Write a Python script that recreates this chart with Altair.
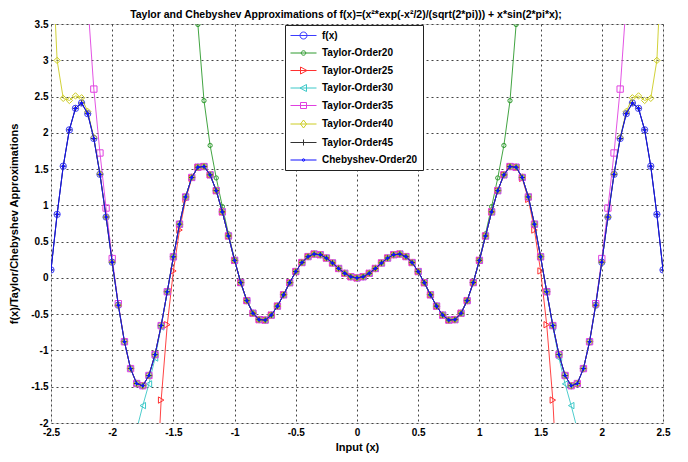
import altair as alt
import pandas as pd

# ---------------- data ----------------
X = [-2.50, -2.45, -2.40, -2.35, -2.30, -2.25, -2.20, -2.15, -2.10, -2.05,
     -2.00, -1.95, -1.90, -1.85, -1.80, -1.75, -1.70, -1.65, -1.60, -1.55,
     -1.50, -1.45, -1.40, -1.35, -1.30, -1.25, -1.20, -1.15, -1.10, -1.05,
     -1.00, -0.95, -0.90, -0.85, -0.80, -0.75, -0.70, -0.65, -0.60, -0.55,
     -0.50, -0.45, -0.40, -0.35, -0.30, -0.25, -0.20, -0.15, -0.10, -0.05,
     0.00,
     0.05, 0.10, 0.15, 0.20, 0.25, 0.30, 0.35, 0.40, 0.45, 0.50,
     0.55, 0.60, 0.65, 0.70, 0.75, 0.80, 0.85, 0.90, 0.95, 1.00,
     1.05, 1.10, 1.15, 1.20, 1.25, 1.30, 1.35, 1.40, 1.45, 1.50,
     1.55, 1.60, 1.65, 1.70, 1.75, 1.80, 1.85, 1.90, 1.95, 2.00,
     2.05, 2.10, 2.15, 2.20, 2.25, 2.30, 2.35, 2.40, 2.45, 2.50]

F = [0.110, 0.876, 1.540, 2.041, 2.337, 2.411, 2.264, 1.922, 1.428, 0.839,
     0.216, -0.376, -0.880, -1.250, -1.456, -1.486, -1.345, -1.057, -0.657, -0.191,
     0.291, 0.741, 1.116, 1.385, 1.526, 1.535, 1.421, 1.203, 0.910, 0.578,
     0.242, -0.064, -0.313, -0.487, -0.575, -0.581, -0.513, -0.389, -0.233, -0.066,
     0.088, 0.212, 0.294, 0.329, 0.320, 0.274, 0.206, 0.130, 0.063, 0.016,
     0.000,
     0.016, 0.063, 0.130, 0.206, 0.274, 0.320, 0.329, 0.294, 0.212, 0.088,
     -0.066, -0.233, -0.389, -0.513, -0.581, -0.575, -0.487, -0.313, -0.064, 0.242,
     0.578, 0.910, 1.203, 1.421, 1.535, 1.526, 1.385, 1.116, 0.741, 0.291,
     -0.191, -0.657, -1.057, -1.345, -1.486, -1.456, -1.250, -0.880, -0.376, 0.216,
     0.839, 1.428, 1.922, 2.264, 2.411, 2.337, 2.041, 1.540, 0.876, 0.110]

# Taylor approximations: equal to f(x) in the middle, diverging near the ends.
T20_LIMIT = 1.35
T20_DEV_X = [-1.35, -1.30, -1.25, -1.20, -1.15, -1.10, -1.05, -1.00,
             1.00, 1.05, 1.10, 1.15, 1.20, 1.25, 1.30, 1.35]
T20_DEV_Y = [5.52, 3.493, 2.443, 1.826, 1.378, 0.983, 0.607, 0.253,
             0.253, 0.607, 0.983, 1.378, 1.826, 2.443, 3.493, 5.52]

T25_LIMIT = 1.65
T25_DEV_X = [-1.65, -1.60, -1.55, -1.50, -1.45, -1.40, -1.35,
             1.35, 1.40, 1.45, 1.50, 1.55, 1.60, 1.65]
T25_DEV_Y = [-3.32, -1.684, -0.645, 0.096, 0.660, 1.083, 1.372,
             1.372, 1.083, 0.660, 0.096, -0.645, -1.684, -3.32]

T30_LIMIT = 1.80
T30_DEV_X = [-1.80, -1.75, -1.70, -1.65, -1.60, 1.60, 1.65, 1.70, 1.75, 1.80]
T30_DEV_Y = [-2.09, -1.760, -1.461, -1.104, -0.676, -0.676, -1.104, -1.461, -1.760, -2.09]

T35_LIMIT = 2.20
T35_DEV_X = [-2.20, -2.15, -2.10, -2.05, -2.00, -1.95,
             1.95, 2.00, 2.05, 2.10, 2.15, 2.20]
T35_DEV_Y = [3.814, 2.603, 1.722, 0.963, 0.267, -0.355,
             -0.355, 0.267, 0.963, 1.722, 2.603, 3.814]

T40_LIMIT = 2.50
T40_DEV_X = [-2.50, -2.45, -2.40, -2.35, -2.30, -2.25, -2.20, -2.15, -2.10,
             2.10, 2.15, 2.20, 2.25, 2.30, 2.35, 2.40, 2.45, 2.50]
T40_DEV_Y = [4.85, 2.998, 2.475, 2.446, 2.509, 2.483, 2.294, 1.934, 1.433,
             1.433, 1.934, 2.294, 2.483, 2.509, 2.446, 2.475, 2.998, 4.85]

SERIES = ["f(x)", "Taylor-Order20", "Taylor-Order25", "Taylor-Order30",
          "Taylor-Order35", "Taylor-Order40", "Taylor-Order45", "Chebyshev-Order20"]

DEVIATIONS = {
    "Taylor-Order20": (T20_LIMIT, T20_DEV_X, T20_DEV_Y),
    "Taylor-Order25": (T25_LIMIT, T25_DEV_X, T25_DEV_Y),
    "Taylor-Order30": (T30_LIMIT, T30_DEV_X, T30_DEV_Y),
    "Taylor-Order35": (T35_LIMIT, T35_DEV_X, T35_DEV_Y),
    "Taylor-Order40": (T40_LIMIT, T40_DEV_X, T40_DEV_Y),
}

# ---------------- styles ----------------
FONT = "Liberation Sans, Arial, sans-serif"
COLORS = ["#3c3cff", "#2e9a2e", "#ff3030", "#3cc8c8", "#e040e0", "#cccc22", "#333333", "#1010ff"]
PLUS = "M-1,0H1M0,-1V1"
MARKERS = ["circle", "circle", "triangle-right", "triangle-left", "square", "diamond", PLUS, "circle"]
SIZES = [40, 18, 40, 40, 40, 40, 30, 10]
FILLED = [False, False, False, False, False, False, False, True]

CIRC = "M-0.7,0A0.7,0.7,0,1,0,0.7,0A0.7,0.7,0,1,0,-0.7,0Z"
LEG_SHAPES = [
    "M-2.6,0H2.6" + CIRC,
    "M-2.6,0H2.6M-0.45,0A0.45,0.45,0,1,0,0.45,0A0.45,0.45,0,1,0,-0.45,0Z",
    "M-2.6,0H2.6M-0.6,-0.7L0.7,0L-0.6,0.7Z",
    "M-2.6,0H2.6M0.6,-0.7L-0.7,0L0.6,0.7Z",
    "M-2.6,0H2.6M-0.6,-0.6H0.6V0.6H-0.6Z",
    "M-2.6,0H2.6M0,-0.8L0.6,0L0,0.8L-0.6,0Z",
    "M-2.6,0H2.6M0,-0.6V0.6",
    "M-2.6,0H2.6M-0.25,0A0.25,0.25,0,1,0,0.25,0A0.25,0.25,0,1,0,-0.25,0Z",
]

TITLE = "Taylor and Chebyshev Approximations of f(x)=(x²*exp(-x²/2)/(sqrt(2*pi))) + x*sin(2*pi*x);"
XTICKS = [-2.5, -2, -1.5, -1, -0.5, 0, 0.5, 1, 1.5, 2, 2.5]
YTICKS = [-2, -1.5, -1, -0.5, 0, 0.5, 1, 1.5, 2, 2.5, 3, 3.5]

# ---------------- build table ----------------
rows = []
for s in SERIES:
    if s in DEVIATIONS:
        lim, dx, dy = DEVIATIONS[s]
        dev = {round(a, 2): b for a, b in zip(dx, dy)}
    else:
        lim, dev = 2.5, {}
    for xv, fv in zip(X, F):
        if abs(xv) > lim + 1e-9:
            continue
        rows.append({"x": xv, "y": dev.get(round(xv, 2), fv), "series": s})
df = pd.DataFrame(rows)

xs = alt.Scale(domain=[-2.5, 2.5], nice=False, zero=False)
ys = alt.Scale(domain=[-2, 3.5], nice=False, zero=False)

common_axis = dict(grid=True, gridDash=[2, 3], gridColor="#444444", gridOpacity=1,
                   ticks=False, tickSize=0, domain=False,
                   labelFont=FONT, labelFontSize=10, labelFontWeight="bold", labelColor="black",
                   titleFont=FONT, titleFontSize=11, titleFontWeight="bold", titleColor="black",
                   labelFlush=False, labelOverlap=False, labelExpr="'' + datum.value")
x_axis = alt.Axis(values=XTICKS, title="Input (x)", labelPadding=4,
                  titleY=24, titleBaseline="middle", **common_axis)
y_axis = alt.Axis(values=YTICKS, title="f(x)/Taylor/Chebyshev Approximations", labelPadding=3,
                  titleX=-37, titleY=199.5, titleAngle=-90, titleAlign="center",
                  titleBaseline="middle", **common_axis)

layers = []
for i, s in enumerate(SERIES):
    base = alt.Chart(df).transform_filter(alt.datum.series == s)
    enc = dict(x=alt.X("x:Q", scale=xs, axis=x_axis), y=alt.Y("y:Q", scale=ys, axis=y_axis))
    layers.append(base.mark_line(color=COLORS[i], strokeWidth=1, clip=True, opacity=0.9).encode(**enc))
    layers.append(base.mark_point(color=COLORS[i], shape=MARKERS[i], size=SIZES[i],
                                  filled=FILLED[i], strokeWidth=1, opacity=1, clip=True).encode(**enc))

legend_df = pd.DataFrame({"x": [0.0] * len(SERIES), "y": [0.0] * len(SERIES), "label": SERIES})
legend_layer = alt.Chart(legend_df).transform_filter("datum.x > 100").mark_point(
    filled=False, opacity=1, strokeWidth=1).encode(
    x=alt.X("x:Q", scale=xs, axis=x_axis),
    y=alt.Y("y:Q", scale=ys, axis=y_axis),
    color=alt.Color("label:N", scale=alt.Scale(domain=SERIES, range=COLORS),
                    legend=alt.Legend(title=None, orient="none", legendX=234, legendY=1,
                                      direction="vertical", symbolSize=100, symbolStrokeWidth=1,
                                      symbolOffset=8, labelOffset=13, rowPadding=6.5, padding=5,
                                      labelFont=FONT, labelFontSize=10, labelFontWeight="bold",
                                      labelColor="black", fillColor="white", strokeColor="#222222",
                                      labelLimit=200)),
    shape=alt.Shape("label:N", scale=alt.Scale(domain=SERIES, range=LEG_SHAPES),
                    legend=alt.Legend(title=None, orient="none", legendX=234, legendY=1)),
)
layers.append(legend_layer)

# chart title as a text mark placed above the plot area
title_df = pd.DataFrame({"t": [TITLE]})
title_layer = alt.Chart(title_df).mark_text(
    font=FONT, fontSize=10.5, fontWeight="bold", color="black",
    align="center", baseline="middle", clip=False).encode(
    text="t:N", x=alt.value(295), y=alt.value(-9))
layers.append(title_layer)

chart = alt.layer(*layers).properties(
    width=612, height=399,
    autosize=alt.AutoSizeParams(type="none"),
    padding={"left": 43, "top": 16, "right": 17, "bottom": 30},
).configure_view(stroke="#666666", strokeWidth=1).configure(background="white")

chart.save("out.html", embed_options={"renderer": "svg", "actions": False})
